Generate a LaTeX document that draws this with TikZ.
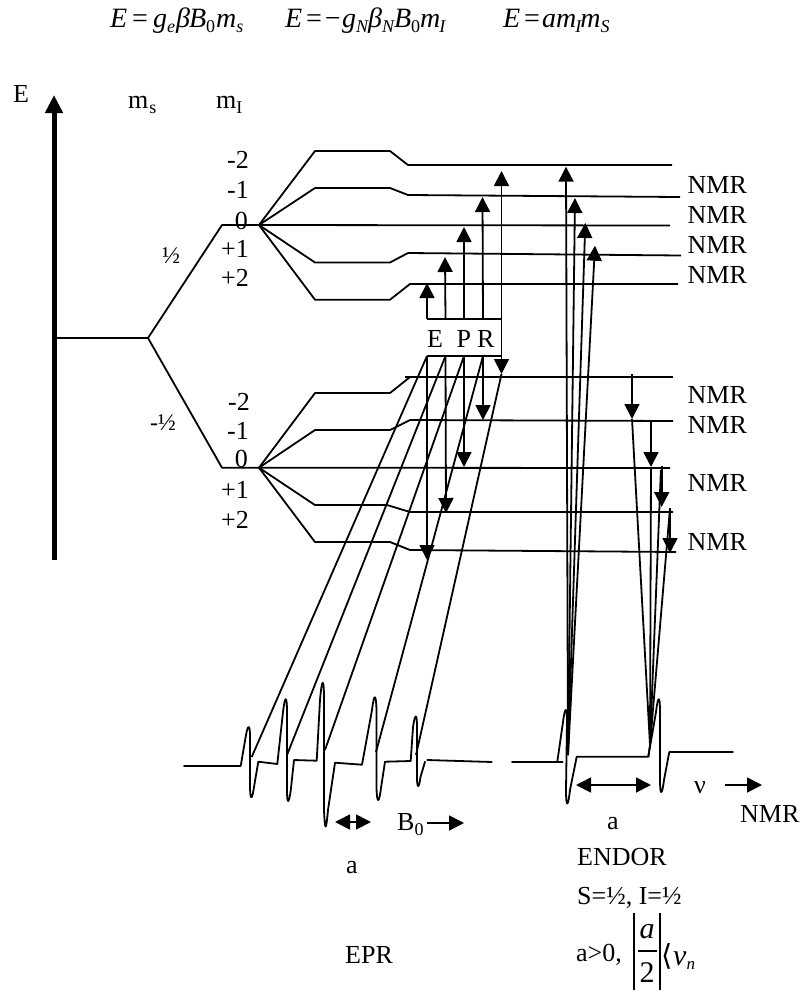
\documentclass[tikz,border=0pt]{standalone}
\usepackage{fontspec}
\setmainfont{Liberation Serif}
\newfontfamily\djv{DejaVu Sans}
\usetikzlibrary{arrows.meta}
\newcommand{\sbx}[1]{\raisebox{-0.2em}{\fontsize{18}{20}\selectfont #1}}
\tikzset{
  x=1pt,y=-1pt,
  lev/.style={line width=1.8pt,line join=round},
  conn/.style={line width=1.8pt},
  tip/.style={conn,-{Triangle[length=15pt,width=15pt]}},
  dbl/.style={conn,{Triangle[length=15pt,width=15pt]}-{Triangle[length=15pt,width=15pt]}},
  lab/.style={inner sep=0pt,font=\fontsize{26}{30}\selectfont},
  lbl/.style={lab,anchor=base west},
  fml/.style={lbl,font=\fontsize{28}{32}\selectfont\itshape},
  spec/.style={line width=1.8pt,line join=round,line cap=round},
}
\begin{document}
\begin{tikzpicture}
\useasboundingbox (0,0) rectangle (803,994);
% formulas
\node[fml] (f1) at (110,27) {E\kern3pt=\kern4pt g\sbx{e}\kern1ptβ\kern-1ptB\sbx{\upshape 0}\kern1ptm\sbx{s}};
\node[fml] (f2) at (285,27) {E\kern2pt=\kern0pt−g\sbx{N}\kern0ptβ\sbx{N}\kern0ptB\sbx{\upshape 0}m\kern-1pt\sbx{I}};
\node[fml] (f3) at (503,27) {E\kern2pt=\kern1ptam\kern-1pt\sbx{I}\kern-1ptm\sbx{S}};
% energy axis
\coordinate (axb) at (54,560);
\coordinate (axt) at (54,95);
\draw[line width=5pt,-{Triangle[length=18pt,width=17pt]}] (axb) -- (axt);
\node[lbl] (E) at (13,102) {E};
\node[lbl] (ms) at (128,108) {m\kern1pt\sbx{s}};
\node[lbl] (mi) at (216,108) {m\sbx{I}};
% mI labels
\tikzset{num/.style={lab,anchor=base east}}
\node[num] (a1) at (249,168) {-2};
\node[num] (a2) at (249,198) {-1};
\node[num] (a3) at (248,229) {0};
\node[num] (a4) at (249,257) {+1};
\node[num] (a5) at (249,286) {+2};
\node[num] (b1) at (250,410) {-2};
\node[num] (b2) at (249,439) {-1};
\node[num] (b3) at (248,467) {0};
\node[num] (b4) at (249,498) {+1};
\node[num] (b5) at (249,528) {+2};
\node[lab] (h1) at (171,256) {\fontsize{24}{28}\selectfont ½};
\node[lab] (h2) at (163,423) {\fontsize{24}{28}\selectfont -½};
% levels
\draw[lev] (54,338) -- (148,338) -- (222,225) -- (259,225);
\draw[lev] (148,338) -- (222,467.7) -- (259,467.7);
\draw[lev] (259,225) -- (315,151) -- (390,151) -- (408,165) -- (672,165);
\draw[lev] (259,225) -- (315,188) -- (390,188) -- (408,195) -- (680,197);
\draw[lev] (259,225) -- (670,225.5);
\draw[lev] (259,225) -- (315,262.5) -- (390,262.5) -- (408,253) -- (681,255.5);
\draw[lev] (259,225) -- (315,299.7) -- (390,299.7) -- (410,284) -- (678,284);
\draw[lev] (259,467.7) -- (315,393) -- (390,393) -- (410,377);
\draw[lev] (405,377) -- (673,377);
\draw[lev] (259,467.7) -- (315,430) -- (390,430) -- (410,420) -- (673,421);
\draw[lev] (259,467.7) -- (670,468);
\draw[lev] (259,467.7) -- (315,505) -- (387,505) -- (410,512) -- (673,512);
\draw[lev] (259,467.7) -- (315,542) -- (390,542) -- (410,550) -- (676,552);
% NMR labels
\foreach \n/\y in {1/193,2/223,3/253,4/283,5/403,6/433,7/491,8/550}
  \node[lab,anchor=base west] (nmr\n) at (687.5,\y) {NMR};
% EPR box
\node[lbl] (eE) at (427,347) {E};
\node[lbl] (eP) at (456.5,347) {P};
\node[lbl] (eR) at (477,347) {R};
\foreach \i/\x in {1/427,2/445.5,3/464,4/483,5/501.5}{
  \coordinate (u\i) at (\x,318.7);
  \coordinate (l\i) at (\x,356);
}
\draw[conn] (u1) -- (u5);
\draw[conn] (l1) -- (l5);
\foreach \i/\x/\y in {1/427/283,2/445/257,3/464/227,4/482.5/197,5/501.5/171}{
  \coordinate (ut\i) at (\x,\y);
  \draw[tip] (u\i) -- (ut\i);
}
\foreach \i/\x/\y in {1/427/560,2/446/513,3/464/467,4/483/420,5/501.5/374}{
  \coordinate (lt\i) at (\x,\y);
  \draw[tip] (l\i) -- (lt\i);
}
\draw[conn] (u5) -- (l5);
% slanted links to EPR spectrum
\foreach \a/\x/\y in {l1/251.7/757,l2/287/755,l3/325/750,l4/376/752,lt5/416/755}
  \draw[conn] (\a) -- (\x,\y);
% EPR spectrum
\draw[spec] (184,766) -- (240.7,766) -- (246,735)
  .. controls (248,724) and (250,724) .. (250,737)
  -- (250,785) .. controls (250,801) and (252,801) .. (254,787)
  -- (258.3,761.7) -- (277.3,764) -- (283,712)
  .. controls (285,695) and (287,695) .. (287,712)
  -- (287,790) .. controls (287,805) and (289,805) .. (291,788)
  -- (294,760) -- (316.7,760.7) -- (320,700)
  .. controls (322,677) and (324,677) .. (324,700)
  -- (324,810) .. controls (325,832) and (326,832) .. (328,810)
  -- (335,762.7) -- (362,764.7) -- (372,710)
  .. controls (374,693) and (376,693) .. (376.5,710)
  -- (376.5,788) .. controls (377,804) and (379,804) .. (381,788)
  -- (385,761.7) -- (410.7,761) -- (413,727)
  .. controls (415,713) and (417,713) .. (417,727)
  -- (417,777) .. controls (417,789) and (419,789) .. (420.5,777)
  -- (425,761.7);
\draw[spec] (427.3,760) -- (491.7,762);
% ENDOR spectrum
\draw[spec] (512,761.7) -- (562.7,761.7);
\draw[spec] (557.3,761.7) -- (563,722)
  .. controls (565,706) and (567,706) .. (567,722)
  -- (566,790) .. controls (566,808) and (568,808) .. (570,790)
  -- (576.7,756.7) -- (648.3,756.7) -- (656,712)
  .. controls (658,695) and (660,695) .. (660,712)
  -- (660,780) .. controls (660,796) and (662,796) .. (664,780)
  -- (669.3,752) -- (733,752);
% ENDOR arrows, upper
\coordinate (cl) at (568,755);
\coordinate (cr) at (650,745);
\coordinate (pk1) at (566,166.7);
\coordinate (pk2) at (575,198);
\coordinate (pk3) at (585.3,223);
\coordinate (pk4) at (595,245.7);
\draw[tip] (cl) -- (pk1);
\draw[tip] (cl) -- (pk2);
\draw[tip] (cl) -- (pk3);
\draw[tip] (cl) -- (pk4);
% ENDOR arrows, lower
\foreach \i/\x/\a/\b in {1/632/374/419,2/651/420/467,3/661.7/466/507,4/670/508/553}{
  \coordinate (ns\i) at (\x,\a);
  \coordinate (ne\i) at (\x,\b);
  \draw[tip] (ns\i) -- (ne\i);
}
\draw[conn] (ne1) -- (cr);
\draw[conn] (ne2) -- (cr);
\draw[conn] (660.9,470) -- (cr);
\draw[conn] (ns4) -- (cr);
\draw[conn] (cr) -- (648.3,757);
% scale arrows and labels
\coordinate (d1) at (335,822); \coordinate (d2) at (371,822);
\draw[dbl] (d1) -- (d2);
\node[lbl] (B0) at (397,830) {B\sbx{0}};
\coordinate (b1s) at (427,823); \coordinate (b1e) at (464,823);
\draw[tip] (b1s) -- (b1e);
\coordinate (d3) at (576,785); \coordinate (d4) at (651,785);
\draw[dbl] (d3) -- (d4);
\node[lbl] (nu) at (694,793) {ν};
\coordinate (n1s) at (725,785); \coordinate (n1e) at (762,785);
\draw[tip] (n1s) -- (n1e);
\node[lbl] (nmrb) at (740,822) {NMR};
\node[lbl] (aE) at (346,873) {a};
\node[lbl] (aN) at (607,829) {a};
\node[lbl] (endor) at (577,865) {ENDOR};
\node[lbl] (si) at (577,904) {S=½, I=½};
\node[lbl] (epr) at (345,963) {EPR};
\node[lbl] (agt) at (576,961) {a>0,};
\coordinate (v1a) at (634,913); \coordinate (v1b) at (634,990);
\coordinate (v2a) at (660,913); \coordinate (v2b) at (660,990);
\draw[conn] (v1a) -- (v1b); \draw[conn] (v2a) -- (v2b);
\coordinate (fa) at (637.5,950.7); \coordinate (fb) at (657,950.7);
\draw[conn] (fa) -- (fb);
\node[lab] (fn) at (647,932) {\fontsize{30}{34}\selectfont\itshape a};
\node[lab] (fd) at (647,973) {\fontsize{30}{34}\selectfont 2};
\node[lab,anchor=base] (ang) at (667.5,965) {\djv\fontsize{29}{32}\selectfont ⟨};
\node[lbl] (nun) at (673,965) {\fontsize{30}{34}\selectfont\itshape ν\raisebox{-0.15em}{\fontsize{17}{18}\selectfont n}};
\end{tikzpicture}
\end{document}
